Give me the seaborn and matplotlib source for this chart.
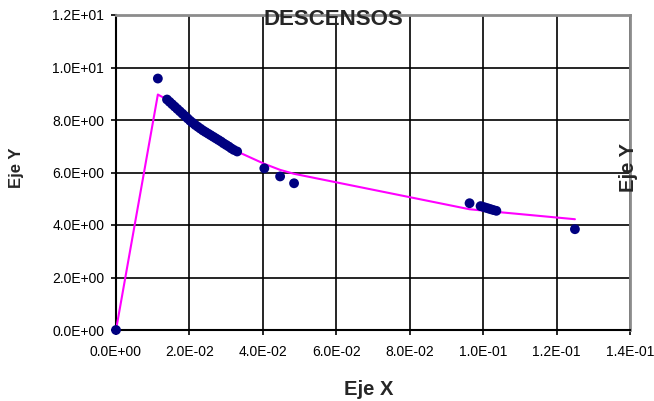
import matplotlib
matplotlib.use("Agg")
import matplotlib.pyplot as plt
import numpy as np
import pandas as pd
import seaborn as sns

# measured points (Eje X, Eje Y)
obs_x = [0.0, 0.0114,
         0.0139, 0.0146, 0.0153, 0.0160, 0.0167, 0.0174, 0.0181, 0.0188,
         0.0195, 0.0202, 0.0209, 0.0216, 0.0223, 0.0230, 0.0237, 0.0244,
         0.0251, 0.0258, 0.0265, 0.0272, 0.0279, 0.0286, 0.0293, 0.0300,
         0.0307, 0.0314, 0.0321, 0.0330,
         0.0404, 0.0447, 0.0485,
         0.0963, 0.0993, 0.1000, 0.1007, 0.1014, 0.1021, 0.1028, 0.1036,
         0.1250]
obs_y = [0.0, 9.58,
         8.78, 8.69, 8.60, 8.51, 8.42, 8.33, 8.24, 8.15,
         8.06, 7.97, 7.89, 7.81, 7.74, 7.67, 7.60, 7.54,
         7.48, 7.42, 7.36, 7.30, 7.24, 7.18, 7.11, 7.05,
         6.99, 6.92, 6.86, 6.80,
         6.16, 5.85, 5.59,
         4.83, 4.72, 4.69, 4.66, 4.63, 4.60, 4.57, 4.54,
         3.84]

# fitted curve
fit_x = [0.0, 0.0114, 0.0139, 0.0202, 0.0265, 0.0330, 0.0404, 0.0447,
         0.0485, 0.0963, 0.1036, 0.1250]
fit_y = [0.0, 8.97, 8.78, 7.97, 7.36, 6.80, 6.33, 6.10,
         5.95, 4.60, 4.50, 4.22]

x_ticks = [0.0, 0.02, 0.04, 0.06, 0.08, 0.10, 0.12, 0.14]
x_labels = ["0.0E+00", "2.0E-02", "4.0E-02", "6.0E-02", "8.0E-02",
            "1.0E-01", "1.2E-01", "1.4E-01"]
y_ticks = [0, 2, 4, 6, 8, 10, 12]
y_labels = ["0.0E+00", "2.0E+00", "4.0E+00", "6.0E+00", "8.0E+00",
            "1.0E+01", "1.2E+01"]

sns.set_style("white")
plt.rcParams["font.family"] = ["Liberation Sans", "DejaVu Sans"]

obs = pd.DataFrame({"x": obs_x, "y": obs_y})
fit = pd.DataFrame({"x": fit_x, "y": fit_y})

fig = plt.figure(figsize=(6.54, 4.01), dpi=100)
ax = fig.add_axes([116 / 654, 1 - 330 / 401, (630 - 116) / 654, (330 - 15) / 401])

sns.lineplot(data=fit, x="x", y="y", ax=ax, color="#FF00FF", linewidth=1.5,
             sort=False, estimator=None, zorder=3)
sns.scatterplot(data=obs, x="x", y="y", ax=ax, color="#000080", s=50,
                edgecolor="none", zorder=4, clip_on=False)

ax.set_xlim(0, 0.14)
ax.set_ylim(0, 12)
ax.set_xticks(x_ticks)
ax.set_xticklabels(x_labels)
ax.set_yticks(y_ticks)
ax.set_yticklabels(y_labels)
ax.set_xlabel("")
ax.set_ylabel("")
ax.grid(True, color="black", linewidth=1.2)
ax.set_axisbelow(True)
ax.tick_params(axis="both", which="major", direction="out", length=3.5,
               width=1.2, color="black", labelsize=10, labelcolor="black")
ax.tick_params(axis="x", pad=7)
ax.tick_params(axis="y", pad=5)
ax.xaxis.set_ticks_position("bottom")
ax.yaxis.set_ticks_position("left")

for side in ["left", "bottom"]:
    ax.spines[side].set_color("black")
    ax.spines[side].set_linewidth(1.5)
for side in ["top", "right"]:
    ax.spines[side].set_visible(True)
    ax.spines[side].set_color("#8C8C8C")
    ax.spines[side].set_linewidth(2.0)

fig.text(333 / 654, 1 - 25 / 401, "DESCENSOS", ha="center", va="baseline",
         fontsize=16, fontweight="bold")
fig.text(369 / 654, 1 - 395 / 401, "Eje X", ha="center", va="baseline",
         fontsize=14.5, fontweight="bold")
fig.text(16 / 654, 1 - 168 / 401, "Eje Y", ha="center", va="center",
         rotation=90, fontsize=12, fontweight="bold")
fig.text(629 / 654, 1 - 168 / 401, "Eje Y", ha="center", va="center",
         rotation=90, fontsize=14.5, fontweight="bold")

fig.savefig("out.png", dpi=100)
